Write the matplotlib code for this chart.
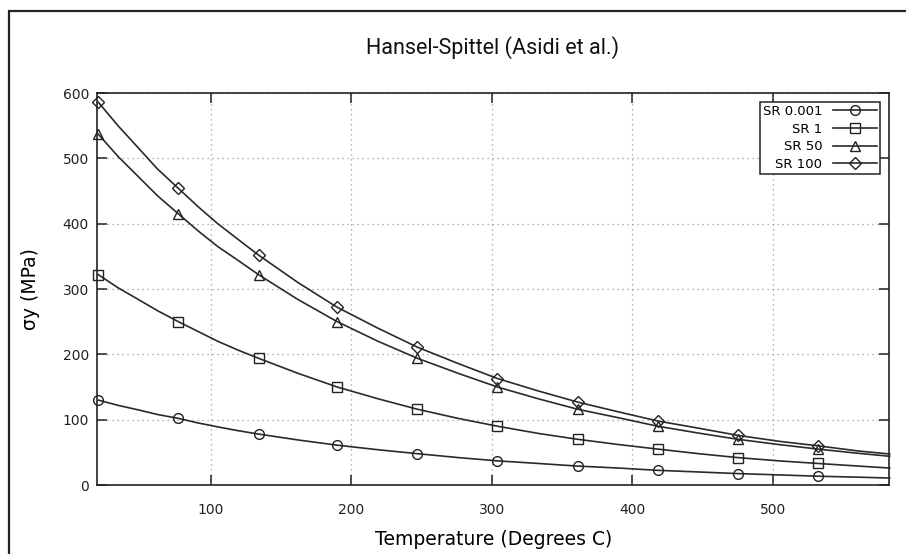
import matplotlib.pyplot as plt
from matplotlib.patches import Rectangle

plt.rcParams['font.family'] = ['DejaVu Sans']

# Temperature grid (deg C); markers sit on every other point
temp = [20, 34, 48.5, 62, 77, 91, 105, 120, 134, 162, 190, 219, 247, 276,
        304, 333, 361, 390, 418, 447, 475, 504, 532, 561, 583]

# Yield stress (MPa) for each strain rate
sr_0001 = [130, 122, 115, 108, 102, 95, 89, 83, 78, 69, 61, 54, 48, 42, 37,
           33, 29, 26, 22.5, 20, 17.5, 15.5, 13.5, 12, 10.7]
sr_1 = [322, 302, 284, 267, 250, 235, 220, 206, 194, 171, 150, 132, 116, 102,
        90, 79, 70, 62, 55, 48, 42, 37, 33, 29, 26]
sr_50 = [537, 503, 472, 443, 415, 389, 365, 343, 322, 284, 250, 220, 194, 171,
         150, 132, 116, 103, 90, 79.5, 70, 62, 55, 48.5, 44]
sr_100 = [586, 550, 516, 484, 454, 426, 400, 375, 352, 310, 272, 240, 211, 186,
          163, 144, 127, 112, 98, 87, 76, 67, 60, 52, 47.5]

labels = ['SR 0.001', 'SR 1', 'SR 50', 'SR 100']
markers = ['o', 's', '^', 'D']
msizes = [7, 7, 7, 6]
x_ticks = [100, 200, 300, 400, 500]
y_ticks = [0, 100, 200, 300, 400, 500, 600]

fig = plt.figure(figsize=(9.06, 5.54), dpi=100)
ax = fig.add_axes([0.1074, 0.1245, 0.8738, 0.7076])

# outer frame of the picture
fig.patches.append(Rectangle((9 / 906, -0.1), 1.2, 1.1 - 11 / 554,
                             transform=fig.transFigure, fill=False,
                             edgecolor='#222222', linewidth=1.6))

marks = [0, 4, 8, 10, 12, 14, 16, 18, 20, 22]
for ys, lab, m, ms in zip([sr_0001, sr_1, sr_50, sr_100], labels, markers, msizes):
    ax.plot(temp, ys, color='#2a2a2a', linewidth=1.2, marker=m, markersize=ms,
            markerfacecolor='none', markeredgecolor='#222222', markeredgewidth=1.0,
            markevery=marks, label=lab, clip_on=False, zorder=3)

ax.set_xlim(19.3, 582.5)
ax.set_ylim(0, 600)
ax.set_xticks(x_ticks)
ax.set_yticks(y_ticks)
ax.tick_params(direction='in', length=7, width=1.1, top=True, right=True,
               labelsize=10, colors='#222222')
ax.tick_params(axis='x', pad=13)
ax.tick_params(axis='y', pad=6)
ax.grid(True, color='#9a9a9a', linestyle=(0, (1, 3)), linewidth=0.9)
for s in ax.spines.values():
    s.set_linewidth(1.2)
    s.set_color('#222222')

fig.text(0.544, 1 - 48 / 554, 'Hansel-Spittel (Asidi et al.)', fontsize=15.5,
         family='Roboto', ha='center', va='center', color='#111111')
ax.set_xlabel('Temperature (Degrees C)', fontsize=13.5, labelpad=9)
ax.set_ylabel('σy (MPa)', fontsize=13.5, labelpad=16)

# markerfirst=False gives right-justified labels with the samples on the right
leg = ax.legend(loc='upper right', bbox_to_anchor=(0.9885, 0.978), fontsize=9.5,
                markerfirst=False, handlelength=3.3, handletextpad=0.8,
                labelspacing=0.35, borderpad=0.25, fancybox=False,
                framealpha=1, edgecolor='#222222', borderaxespad=0)
leg.get_frame().set_linewidth(1.1)
leg.set_zorder(5)

fig.savefig('out.png', dpi=100)
